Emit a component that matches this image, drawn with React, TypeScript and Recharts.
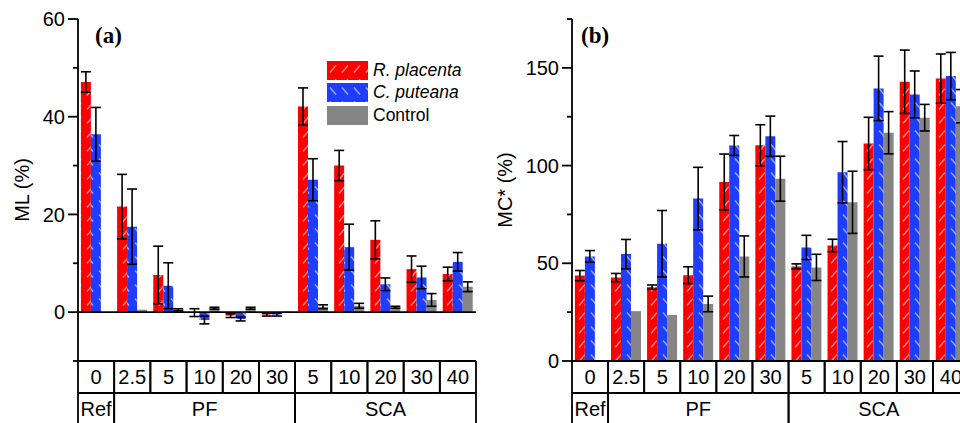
import { BarChart, Bar, XAxis, YAxis, ErrorBar, ReferenceLine, Legend } from 'recharts'

// concentration labels and treatment groups
const categories = ['0', '2.5', '5', '10', '20', '30', '5', '10', '20', '30', '40']
const groups = ['Ref', 'PF', 'PF', 'PF', 'PF', 'PF', 'SCA', 'SCA', 'SCA', 'SCA', 'SCA']

// (a) mass loss ML (%)
const mlPlacenta = [47.1, 21.6, 7.6, -0.1, -0.7, -0.5, 42.1, 30.0, 14.8, 8.8, 7.8]
const mlPlacentaErr = [2.1, 6.6, 5.9, 0.8, 0.4, 0.3, 3.8, 3.1, 3.9, 2.7, 1.4]
const mlPuteana = [36.4, 17.5, 5.4, -1.6, -1.4, -0.5, 27.1, 13.3, 5.7, 7.1, 10.3]
const mlPuteanaErr = [5.5, 7.7, 4.7, 0.8, 0.4, 0.3, 4.3, 4.7, 1.3, 2.3, 1.9]
const mlControl = [null, 0.5, 0.5, 0.8, 0.8, 0.1, 1.1, 1.3, 1.0, 2.5, 5.2]
const mlControlErr = [null, 0, 0.2, 0.2, 0.2, 0, 0.4, 0.5, 0.2, 1.3, 1.0]

// (b) moisture content MC* (%)
const mcPlacenta = [43.7, 42.7, 37.8, 43.9, 91.6, 110.4, 48.4, 59.1, 111.3, 142.9, 144.5]
const mcPlacentaErr = [2.6, 2.1, 1.1, 4.3, 14.3, 10.5, 1.3, 3.2, 13.4, 16.2, 12.6]
const mcPuteana = [53.5, 54.7, 60.0, 83.1, 110.3, 115.0, 58.1, 96.6, 139.5, 136.4, 145.8]
const mcPuteanaErr = [3.0, 7.5, 17.0, 16.0, 5.1, 10.3, 6.2, 15.7, 16.5, 12.0, 12.1]
const mcControl = [null, 25.5, 23.6, 29.2, 53.5, 93.3, 47.9, 81.2, 116.8, 124.5, 130.4]
const mcControlErr = [null, 0, 0, 4.0, 10.5, 11.5, 6.7, 15.9, 10.8, 6.8, 8.5]

const mlTicks = [-10, 0, 10, 20, 30, 40, 50, 60]
const mlMajor = [0, 20, 40, 60]
const mcTicks = [0, 25, 50, 75, 100, 125, 150, 175]
const mcMajor = [0, 50, 100, 150]

const series = [
  { key: 'rp', name: 'R. placenta', fill: 'url(#hatchRed)', italic: true },
  { key: 'cp', name: 'C. puteana', fill: 'url(#hatchBlue)', italic: true },
  { key: 'ctrl', name: 'Control', fill: '#858585', italic: false },
]

const mlData = categories.map((cat, i) => ({
  cat,
  rp: mlPlacenta[i], rpErr: mlPlacentaErr[i],
  cp: mlPuteana[i], cpErr: mlPuteanaErr[i],
  ctrl: mlControl[i], ctrlErr: mlControlErr[i],
}))

const mcData = categories.map((cat, i) => ({
  cat,
  rp: mcPlacenta[i], rpErr: mcPlacentaErr[i],
  cp: mcPuteana[i], cpErr: mcPuteanaErr[i],
  ctrl: mcControl[i], ctrlErr: mcControlErr[i],
}))

const LINE = 1.8
const ROW = 32
const FONT = '"Liberation Sans", Arial, sans-serif'

const valueTick = (majors: number[]) => (props: any) => {
  const { x, y, payload } = props
  const major = majors.includes(payload.value)
  return (
    <g>
      <line x1={x - (major ? 10 : 5)} y1={y} x2={x} y2={y} stroke="#000" strokeWidth={LINE} />
      {major && (
        <text x={x - 13} y={y} dy="0.36em" textAnchor="end" fontSize={20} fill="#000">
          {payload.value}
        </text>
      )}
    </g>
  )
}

const categoryTick = (cellW: number) => (props: any) => {
  const { x, y, index, payload } = props
  const left = x - cellW / 2
  const right = x + cellW / 2
  const g = groups[index]
  const first = index === 0 || groups[index - 1] !== g
  const last = index === groups.length - 1 || groups[index + 1] !== g
  const members = groups.map((v, i) => (v === g ? i : -1)).filter((i) => i >= 0)
  const mid = members[Math.floor(members.length / 2)]
  return (
    <g>
      <line x1={left} y1={y} x2={left} y2={y + ROW} stroke="#000" strokeWidth={LINE} />
      <line x1={right} y1={y} x2={right} y2={y + ROW} stroke="#000" strokeWidth={LINE} />
      <line x1={left} y1={y + ROW} x2={right} y2={y + ROW} stroke="#000" strokeWidth={LINE} />
      {first && <line x1={left} y1={y + ROW} x2={left} y2={y + 100} stroke="#000" strokeWidth={LINE} />}
      {last && <line x1={right} y1={y + ROW} x2={right} y2={y + 100} stroke="#000" strokeWidth={LINE} />}
      <text x={x} y={y + 23} textAnchor="middle" fontSize={20} fill="#000">{payload.value}</text>
      {index === mid && (
        <text x={x} y={y + 55} textAnchor="middle" fontSize={20} fill="#000">{g}</text>
      )}
    </g>
  )
}

const yLabel = (text: string, cx: number) => () => (
  <text
    x={cx}
    y={190}
    transform={`rotate(-90 ${cx} 190)`}
    textAnchor="middle"
    dominantBaseline="central"
    fontSize={20}
    fill="#000"
  >
    {text}
  </text>
)

function LegendBox() {
  return (
    <div style={{ fontFamily: FONT, fontSize: 17.5, color: '#000' }}>
      {series.map((s) => (
        <div key={s.key} style={{ display: 'flex', alignItems: 'center', height: 22.5 }}>
          <svg width={41} height={19} style={{ display: 'block' }}>
            <rect x={0} y={0} width={41} height={19} fill={s.fill} />
          </svg>
          <span style={{ marginLeft: 5, fontStyle: s.italic ? 'italic' : 'normal' }}>{s.name}</span>
        </div>
      ))}
    </div>
  )
}

function Patterns() {
  return (
    <svg width={0} height={0} style={{ position: 'absolute' }}>
      <defs>
        <pattern id="hatchRed" patternUnits="userSpaceOnUse" width={12} height={14}>
          <rect width={12} height={14} fill="#ff0000" />
          <line x1={3} y1={11.5} x2={9} y2={4.5} stroke="rgba(255,255,255,0.55)" strokeWidth={1.4} />
        </pattern>
        <pattern id="hatchBlue" patternUnits="userSpaceOnUse" width={12} height={14}>
          <rect width={12} height={14} fill="#1f3dff" />
          <line x1={3} y1={4.5} x2={9} y2={11.5} stroke="rgba(255,255,255,0.55)" strokeWidth={1.4} />
        </pattern>
      </defs>
    </svg>
  )
}

function Panel(props: {
  data: any[]
  width: number
  yWidth: number
  marginRight: number
  domain: [number, number]
  ticks: number[]
  majors: number[]
  label: string
  labelX: number
  tag: string
  tagX: number
  zeroLine: boolean
  legend: boolean
}) {
  const plotW = props.width - props.yWidth - props.marginRight
  const cellW = plotW / categories.length
  return (
    <BarChart
      width={props.width}
      height={440}
      data={props.data}
      margin={{ top: 19, right: props.marginRight, bottom: 0, left: 0 }}
      barCategoryGap="8%"
      barGap={0}
    >
      <XAxis
        dataKey="cat"
        interval={0}
        height={79}
        tickSize={0}
        tickMargin={0}
        tickLine={false}
        axisLine={{ stroke: '#000', strokeWidth: LINE }}
        tick={categoryTick(cellW)}
      />
      <YAxis
        width={props.yWidth}
        domain={props.domain}
        ticks={props.ticks}
        interval={0}
        allowDataOverflow
        tickSize={0}
        tickMargin={0}
        tickLine={false}
        axisLine={{ stroke: '#000', strokeWidth: LINE }}
        tick={valueTick(props.majors)}
        label={yLabel(props.label, props.labelX)}
      />
      {props.zeroLine && <ReferenceLine y={0} stroke="#000" strokeWidth={LINE} />}
      {series.map((s) => (
        <Bar key={s.key} dataKey={s.key} name={s.name} fill={s.fill} isAnimationActive={false}>
          <ErrorBar dataKey={`${s.key}Err`} width={5} stroke="#000" strokeWidth={1.6} />
        </Bar>
      ))}
      {props.legend && (
        <Legend
          layout="vertical"
          align="center"
          verticalAlign="middle"
          wrapperStyle={{ left: 327, top: 59, width: 160 }}
          content={() => <LegendBox />}
        />
      )}
      <text
        x={props.tagX}
        y={43}
        fontFamily='"Liberation Serif", "Times New Roman", serif'
        fontWeight="bold"
        fontSize={23}
        fill="#000"
      >
        {props.tag}
      </text>
    </BarChart>
  )
}

export default function App() {
  return (
    <div
      style={{
        position: 'absolute',
        left: 0,
        top: 0,
        width: 960,
        height: 423,
        overflow: 'hidden',
        background: '#fff',
        fontFamily: FONT,
      }}
    >
      <Patterns />
      <div style={{ position: 'absolute', left: 0, top: 0 }}>
        <Panel
          data={mlData}
          width={480}
          yWidth={78}
          marginRight={4}
          domain={[-10, 60]}
          ticks={mlTicks}
          majors={mlMajor}
          label="ML (%)"
          labelX={22}
          tag="(a)"
          tagX={95}
          zeroLine
          legend
        />
      </div>
      <div style={{ position: 'absolute', left: 480, top: 0 }}>
        <Panel
          data={mcData}
          width={499}
          yWidth={92}
          marginRight={10}
          domain={[0, 175]}
          ticks={mcTicks}
          majors={mcMajor}
          label="MC* (%)"
          labelX={25}
          tag="(b)"
          tagX={101}
          zeroLine={false}
          legend={false}
        />
      </div>
    </div>
  )
}
